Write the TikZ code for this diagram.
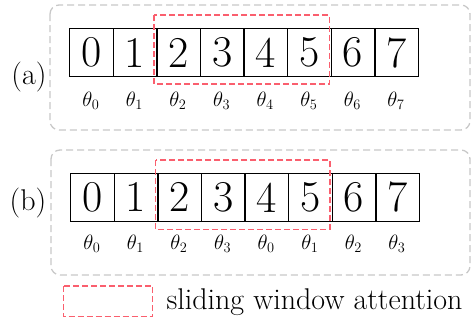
\documentclass[tikz,border=0pt]{standalone}
\usepackage{fontspec}
\begin{document}
\begin{tikzpicture}[x=1pt,y=-1pt,
  cell/.style={draw=black,line width=1.3pt,minimum width=43.6pt,minimum height=48pt,inner sep=0pt,font=\fontsize{44}{44}\selectfont,anchor=north west},
  panel/.style={draw={rgb,255:red,200;green,200;blue,200},line width=1.3pt,dash pattern=on 7pt off 4pt,rounded corners=9pt},
  win/.style={draw={rgb,255:red,250;green,95;blue,110},line width=1.3pt,dash pattern=on 6pt off 3pt},
  th/.style={font=\fontsize{21}{21}\selectfont,anchor=center},
  lab/.style={font=\fontsize{30}{30}\selectfont,anchor=center}]
\useasboundingbox (0,0) rectangle (471,322);
% panels
\draw[panel] (50,5) rectangle (470,130);
\draw[panel] (51,150) rectangle (470,275);
% panel (a)
\foreach \i/\t in {0/0,1/1,2/2,3/3,4/4,5/5,6/6,7/7}{
  \node[cell] (a\i) at ({69+43.6*\i},28) {\i};
  \node[th] (ta\i) at ({69+43.6*\i+21.8},101) {$\theta_{\t}$};
}
\node[lab] (la) at (29,77) {(a)};
\draw[win] (154,15) rectangle (329.5,84);
% panel (b)
\foreach \i/\t in {0/0,1/1,2/2,3/3,4/0,5/1,6/2,7/3}{
  \node[cell] (b\i) at ({70+43.6*\i},172.7) {\i};
  \node[th] (tb\i) at ({70+43.6*\i+21.8},244) {$\theta_{\t}$};
}
\node[lab] (lb) at (28,203) {(b)};
\draw[win] (155.7,160) rectangle (330,229.5);
% legend
\draw[win] (63.3,286) rectangle (152.7,316.7);
\node[font=\fontsize{30}{30}\selectfont,anchor=west] (leg) at (163,302) {sliding window attention};
\end{tikzpicture}
\end{document}
